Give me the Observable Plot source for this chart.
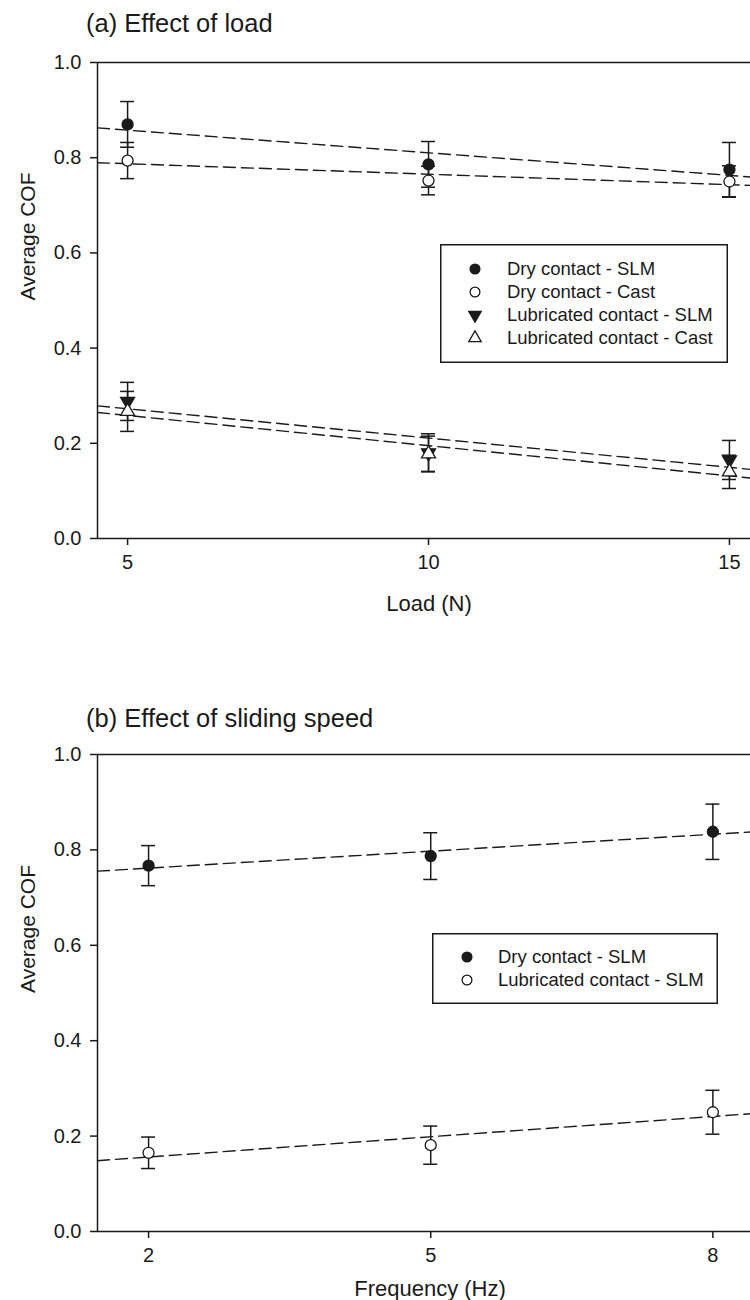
<!DOCTYPE html>
<html>
<head>
<meta charset="utf-8">
<script src="https://cdn.jsdelivr.net/npm/d3@7"></script>
<script src="https://cdn.jsdelivr.net/npm/@observablehq/plot@0.6"></script>
<style>
  html, body { margin: 0; padding: 0; background: #fff; }
  #wrap { position: relative; width: 750px; height: 1300px; background: #fff; overflow: hidden;
          font-family: 'Liberation Sans', Arial, sans-serif; color: #1a1a1a; }
  .title { position: absolute; left: 86px; font-size: 25.5px; line-height: 30px; white-space: nowrap; z-index: 5; }
  .abs { position: absolute; }
</style>
</head>
<body>
<div id="wrap">
  <div class="title" style="top:8px">(a) Effect of load</div>
  <div class="title" style="top:703px">(b) Effect of sliding speed</div>
</div>
<script>
// ---------- DATA ----------
// (a) Effect of load
const loads = [5, 10, 15];
const loadTicks = [5, 10, 15];
const drySLM_load = [0.870, 0.786, 0.775];
const drySLM_load_err = [0.048, 0.048, 0.057];
const dryCast_load = [0.794, 0.752, 0.750];
const dryCast_load_err = [0.038, 0.030, 0.033];
const lubSLM_load = [0.288, 0.180, 0.165];
const lubSLM_load_err = [0.040, 0.040, 0.041];
const lubCast_load = [0.267, 0.178, 0.140];
const lubCast_load_err = [0.042, 0.037, 0.035];

// (b) Effect of sliding speed
const freqs = [2, 5, 8];
const freqTicks = [2, 5, 8];
const drySLM_freq = [0.767, 0.787, 0.838];
const drySLM_freq_err = [0.042, 0.049, 0.058];
const lubSLM_freq = [0.165, 0.181, 0.250];
const lubSLM_freq_err = [0.033, 0.040, 0.046];

const yTicks = [0, 0.2, 0.4, 0.6, 0.8, 1.0];

const labelsA = ["Dry contact - SLM", "Dry contact - Cast", "Lubricated contact - SLM", "Lubricated contact - Cast"];
const labelsB = ["Dry contact - SLM", "Lubricated contact - SLM"];

// ---------- STYLE ----------
const INK = "#1a1a1a";
const FONT = "'Liberation Sans', Arial, sans-serif";
const styleA = [
  {symbol: "circle", fill: INK, rotate: 0, r: 5.5},
  {symbol: "circle", fill: "white", rotate: 0, r: 5.5},
  {symbol: "triangle", fill: INK, rotate: 180, r: 5.2},
  {symbol: "triangle", fill: "white", rotate: 0, r: 5.2}
];
const styleB = [
  {symbol: "circle", fill: INK, rotate: 0, r: 5.5},
  {symbol: "circle", fill: "white", rotate: 0, r: 5.5}
];

function makeSeries(xs, list, labels, styles) {
  return list.map(([vals, errs], k) => ({
    name: labels[k], style: styles[k],
    rows: xs.map((x, i) => ({series: labels[k], x, y: vals[i], lo: vals[i] - errs[i], hi: vals[i] + errs[i]}))
  }));
}

function fitLine(series, xDomain) {
  const xs = series.rows.map(d => d.x), ys = series.rows.map(d => d.y);
  const mx = d3.mean(xs), my = d3.mean(ys);
  const b = d3.sum(xs, (x, i) => (x - mx) * (ys[i] - my)) / d3.sum(xs, x => (x - mx) ** 2);
  const a = my - b * mx;
  return xDomain.map(x => ({series: series.name, x, y: a + b * x}));
}

function chart(seriesList, {xDomain, xTicks, xLabel, height, marginTop, marginBottom, xLabelDy, xLabelDx}) {
  const lines = seriesList.flatMap(s => fitLine(s, xDomain));
  const marks = [
    Plot.ruleY([1], {stroke: INK, strokeWidth: 1.5}),
    Plot.ruleY([0], {stroke: INK, strokeWidth: 1.5}),
    Plot.ruleX([xDomain[0]], {stroke: INK, strokeWidth: 1.5}),
    Plot.axisY({ticks: yTicks, tickFormat: d3.format(".1f"), tickSize: 7, tickPadding: 9, label: null,
                fontSize: 20, stroke: INK, strokeWidth: 1.5}),
    Plot.axisX({ticks: xTicks, tickFormat: d3.format("d"), tickSize: 7, tickPadding: 9, label: null,
                fontSize: 20, stroke: INK, strokeWidth: 1.5}),
    Plot.line(lines, {x: "x", y: "y", z: "series", stroke: INK, strokeWidth: 1.4, strokeDasharray: "12,6"})
  ];
  for (const s of seriesList) {
    marks.push(
      Plot.ruleX(s.rows, {x: "x", y1: "lo", y2: "hi", stroke: INK, strokeWidth: 1.5}),
      Plot.ruleY(s.rows, {y: "lo", x1: "x", x2: "x", insetLeft: -7, insetRight: -7, stroke: INK, strokeWidth: 1.5}),
      Plot.ruleY(s.rows, {y: "hi", x1: "x", x2: "x", insetLeft: -7, insetRight: -7, stroke: INK, strokeWidth: 1.5})
    );
  }
  for (const s of seriesList) {
    marks.push(Plot.dot(s.rows, {x: "x", y: "y", symbol: s.style.symbol, r: s.style.r, rotate: s.style.rotate,
                                 fill: s.style.fill, stroke: INK, strokeWidth: 1.3}));
  }
  marks.push(
    Plot.text(["Average COF"], {frameAnchor: "left", dx: -69, rotate: -90, fontSize: 21, fill: INK}),
    Plot.text([xLabel], {frameAnchor: "bottom", dy: xLabelDy, dx: xLabelDx, fontSize: 22, fill: INK, lineAnchor: "middle"})
  );
  return Plot.plot({
    width: 750, height, marginTop, marginBottom, marginLeft: 97, marginRight: 0,
    style: {fontFamily: FONT, fontSize: "20px", color: INK, background: "transparent", overflow: "visible"},
    x: {domain: xDomain},
    y: {domain: [0, 1]},
    marks
  });
}

function legend(seriesList, {left, top, width, height, rowY, markerX, textX}) {
  const svg = d3.create("svg").attr("width", width).attr("height", height)
    .attr("class", "abs").style("left", left + "px").style("top", top + "px").style("overflow", "visible");
  svg.append("rect").attr("x", 0.75).attr("y", 0.75).attr("width", width - 1.5).attr("height", height - 1.5)
    .attr("fill", "white").attr("stroke", INK).attr("stroke-width", 1.5);
  seriesList.forEach((s, i) => {
    const cy = rowY[i];
    const sym = s.style.symbol === "circle" ? d3.symbolCircle : d3.symbolTriangle;
    const size = Math.PI * (s.style.r - 0.6) ** 2;
    svg.append("path").attr("d", d3.symbol(sym, size)())
      .attr("transform", `translate(${markerX},${cy}) rotate(${s.style.rotate})`)
      .attr("fill", s.style.fill).attr("stroke", INK).attr("stroke-width", 1.3);
    svg.append("text").attr("x", textX).attr("y", cy).attr("dy", "0.35em")
      .attr("font-family", FONT).attr("font-size", 18.5).attr("fill", INK).text(s.name);
  });
  return svg.node();
}

const wrap = document.getElementById("wrap");

// (a)
const seriesA = makeSeries(loads, [
  [drySLM_load, drySLM_load_err], [dryCast_load, dryCast_load_err],
  [lubSLM_load, lubSLM_load_err], [lubCast_load, lubCast_load_err]
], labelsA, styleA);
const svgA = chart(seriesA, {xDomain: [4.5, 15.35], xTicks: loadTicks, xLabel: "Load (N)",
  height: 620, marginTop: 62, marginBottom: 82, xLabelDy: 65, xLabelDx: 5});
svgA.style.position = "absolute"; svgA.style.left = "0px"; svgA.style.top = "0px";
wrap.appendChild(svgA);
wrap.appendChild(legend(seriesA, {left: 440, top: 244, width: 288, height: 119,
  rowY: [25, 48, 71, 94], markerX: 35, textX: 67}));

// (b)
const seriesB = makeSeries(freqs, [
  [drySLM_freq, drySLM_freq_err], [lubSLM_freq, lubSLM_freq_err]
], labelsB, styleB);
const svgB = chart(seriesB, {xDomain: [1.457, 8.40], xTicks: freqTicks, xLabel: "Frequency (Hz)",
  height: 620, marginTop: 74, marginBottom: 69, xLabelDy: 57, xLabelDx: 6});
svgB.style.position = "absolute"; svgB.style.left = "0px"; svgB.style.top = "680px";
wrap.appendChild(svgB);
wrap.appendChild(legend(seriesB, {left: 432, top: 933, width: 286, height: 71,
  rowY: [24, 47], markerX: 35, textX: 66}));
</script>
</body>
</html>
